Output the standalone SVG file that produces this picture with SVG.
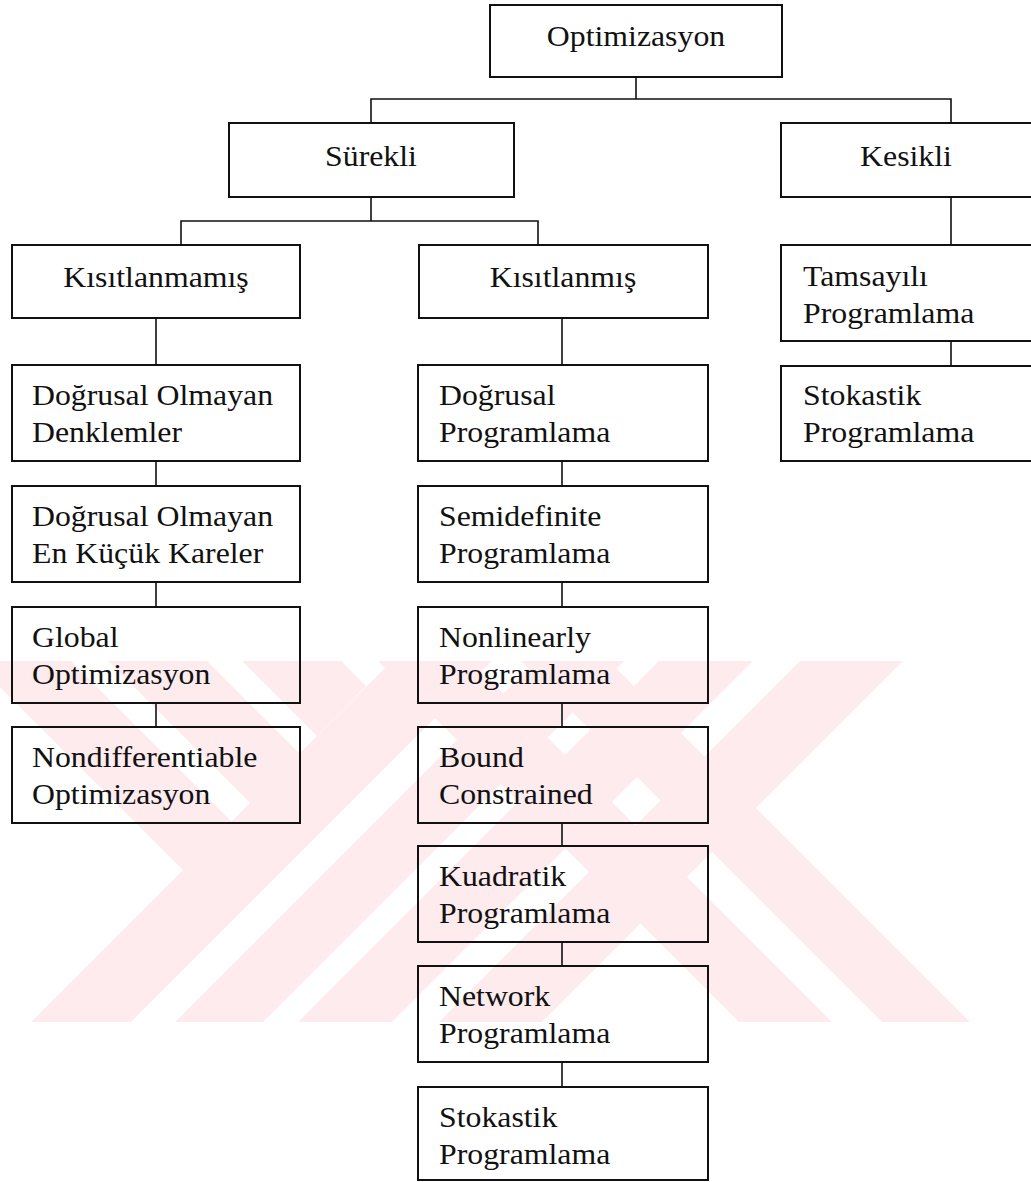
<svg xmlns="http://www.w3.org/2000/svg" width="1031" height="1182" viewBox="0 0 1031 1182">
<style>
.wm{fill:#fdebee;stroke:none}
.box{fill:none;stroke:#111;stroke-width:2}
.con{fill:none;stroke:#111;stroke-width:1.6}
.t{font-family:"Liberation Serif","Times New Roman",serif;font-size:30px;fill:#111}
.c{text-anchor:middle}
</style>
<rect x="0" y="0" width="1031" height="1182" fill="#ffffff"/>
<g id="watermark">
<polygon class="wm" points="0,661 71,661 252,842 183,870 0,687"/>
<polygon class="wm" points="108,661 207,661 350,804 250,803"/>
<polygon class="wm" points="242,661 341,661 366,686 317,736"/>
<polygon class="wm" points="392,661 492,661 131,1022 31,1022"/>
<polygon class="wm" points="536,661 624,661 263,1022 175,1022"/>
<polygon class="wm" points="659,661 753,661 392,1022 298,1022"/>
<polygon class="wm" points="800,661 903,661 542,1022 439,1022"/>
<polygon class="wm" points="378,661 471,661 832,1022 739,1022"/>
<polygon class="wm" points="521,661 609,661 970,1022 882,1022"/>
</g>
<g id="connectors">
<path class="con" d="M636,77V99M371,123V99H951V123"/>
<path class="con" d="M371,197V221M181,245V221H538V245"/>
<path class="con" d="M951,197V245M951,341V366"/>
<path class="con" d="M156,318V365M156,461V486M156,582V607M156,703V727"/>
<path class="con" d="M562,318V365M562,461V486M562,582V607M562,703V727M562,823V846M562,942V966M562,1062V1087"/>
</g>
<g id="n-optimizasyon"><rect class="box" x="490" y="5" width="292" height="72"/><text class="t c" transform="translate(636,46) scale(1.06,1)">Optimizasyon</text></g>
<g id="n-surekli"><rect class="box" x="229" y="123" width="285" height="74"/><text class="t c" transform="translate(371,166) scale(1.06,1)">Sürekli</text></g>
<g id="n-kesikli"><rect class="box" x="781" y="123" width="260" height="74"/><text class="t c" transform="translate(906,166) scale(1.06,1)">Kesikli</text></g>
<g id="n-kisitlanmamis"><rect class="box" x="12" y="245" width="288" height="73"/><text class="t c" transform="translate(156,287) scale(1.06,1)">Kısıtlanmamış</text></g>
<g id="n-kisitlanmis"><rect class="box" x="419" y="245" width="289" height="73"/><text class="t c" transform="translate(563,287) scale(1.06,1)">Kısıtlanmış</text></g>
<g id="n-tamsayili"><rect class="box" x="781" y="245" width="260" height="96"/><text class="t" transform="translate(803,286) scale(1.06,1)">Tamsayılı</text><text class="t" transform="translate(803,323) scale(1.06,1)">Programlama</text></g>
<g id="n-stokastik-k"><rect class="box" x="781" y="366" width="260" height="95"/><text class="t" transform="translate(803,405) scale(1.06,1)">Stokastik</text><text class="t" transform="translate(803,442) scale(1.06,1)">Programlama</text></g>
<g id="n-dod"><rect class="box" x="12" y="365" width="288" height="96"/><text class="t" transform="translate(32,405) scale(1.06,1)">Doğrusal Olmayan</text><text class="t" transform="translate(32,442) scale(1.06,1)">Denklemler</text></g>
<g id="n-dokk"><rect class="box" x="12" y="486" width="288" height="96"/><text class="t" transform="translate(32,526) scale(1.06,1)">Doğrusal Olmayan</text><text class="t" transform="translate(32,563) scale(1.06,1)">En Küçük Kareler</text></g>
<g id="n-global"><rect class="box" x="12" y="607" width="288" height="96"/><text class="t" transform="translate(32,647) scale(1.06,1)">Global</text><text class="t" transform="translate(32,684) scale(1.06,1)">Optimizasyon</text></g>
<g id="n-nondiff"><rect class="box" x="12" y="727" width="288" height="96"/><text class="t" transform="translate(32,767) scale(1.06,1)">Nondifferentiable</text><text class="t" transform="translate(32,804) scale(1.06,1)">Optimizasyon</text></g>
<g id="n-dp"><rect class="box" x="418" y="365" width="290" height="96"/><text class="t" transform="translate(439,405) scale(1.06,1)">Doğrusal</text><text class="t" transform="translate(439,442) scale(1.06,1)">Programlama</text></g>
<g id="n-sdp"><rect class="box" x="418" y="486" width="290" height="96"/><text class="t" transform="translate(439,526) scale(1.06,1)">Semidefinite</text><text class="t" transform="translate(439,563) scale(1.06,1)">Programlama</text></g>
<g id="n-nlp"><rect class="box" x="418" y="607" width="290" height="96"/><text class="t" transform="translate(439,647) scale(1.06,1)">Nonlinearly</text><text class="t" transform="translate(439,684) scale(1.06,1)">Programlama</text></g>
<g id="n-bound"><rect class="box" x="418" y="727" width="290" height="96"/><text class="t" transform="translate(439,767) scale(1.06,1)">Bound</text><text class="t" transform="translate(439,804) scale(1.06,1)">Constrained</text></g>
<g id="n-kuad"><rect class="box" x="418" y="846" width="290" height="96"/><text class="t" transform="translate(439,886) scale(1.06,1)">Kuadratik</text><text class="t" transform="translate(439,923) scale(1.06,1)">Programlama</text></g>
<g id="n-network"><rect class="box" x="418" y="966" width="290" height="96"/><text class="t" transform="translate(439,1006) scale(1.06,1)">Network</text><text class="t" transform="translate(439,1043) scale(1.06,1)">Programlama</text></g>
<g id="n-stokastik-s"><rect class="box" x="418" y="1087" width="290" height="93"/><text class="t" transform="translate(439,1127) scale(1.06,1)">Stokastik</text><text class="t" transform="translate(439,1164) scale(1.06,1)">Programlama</text></g>
</svg>
